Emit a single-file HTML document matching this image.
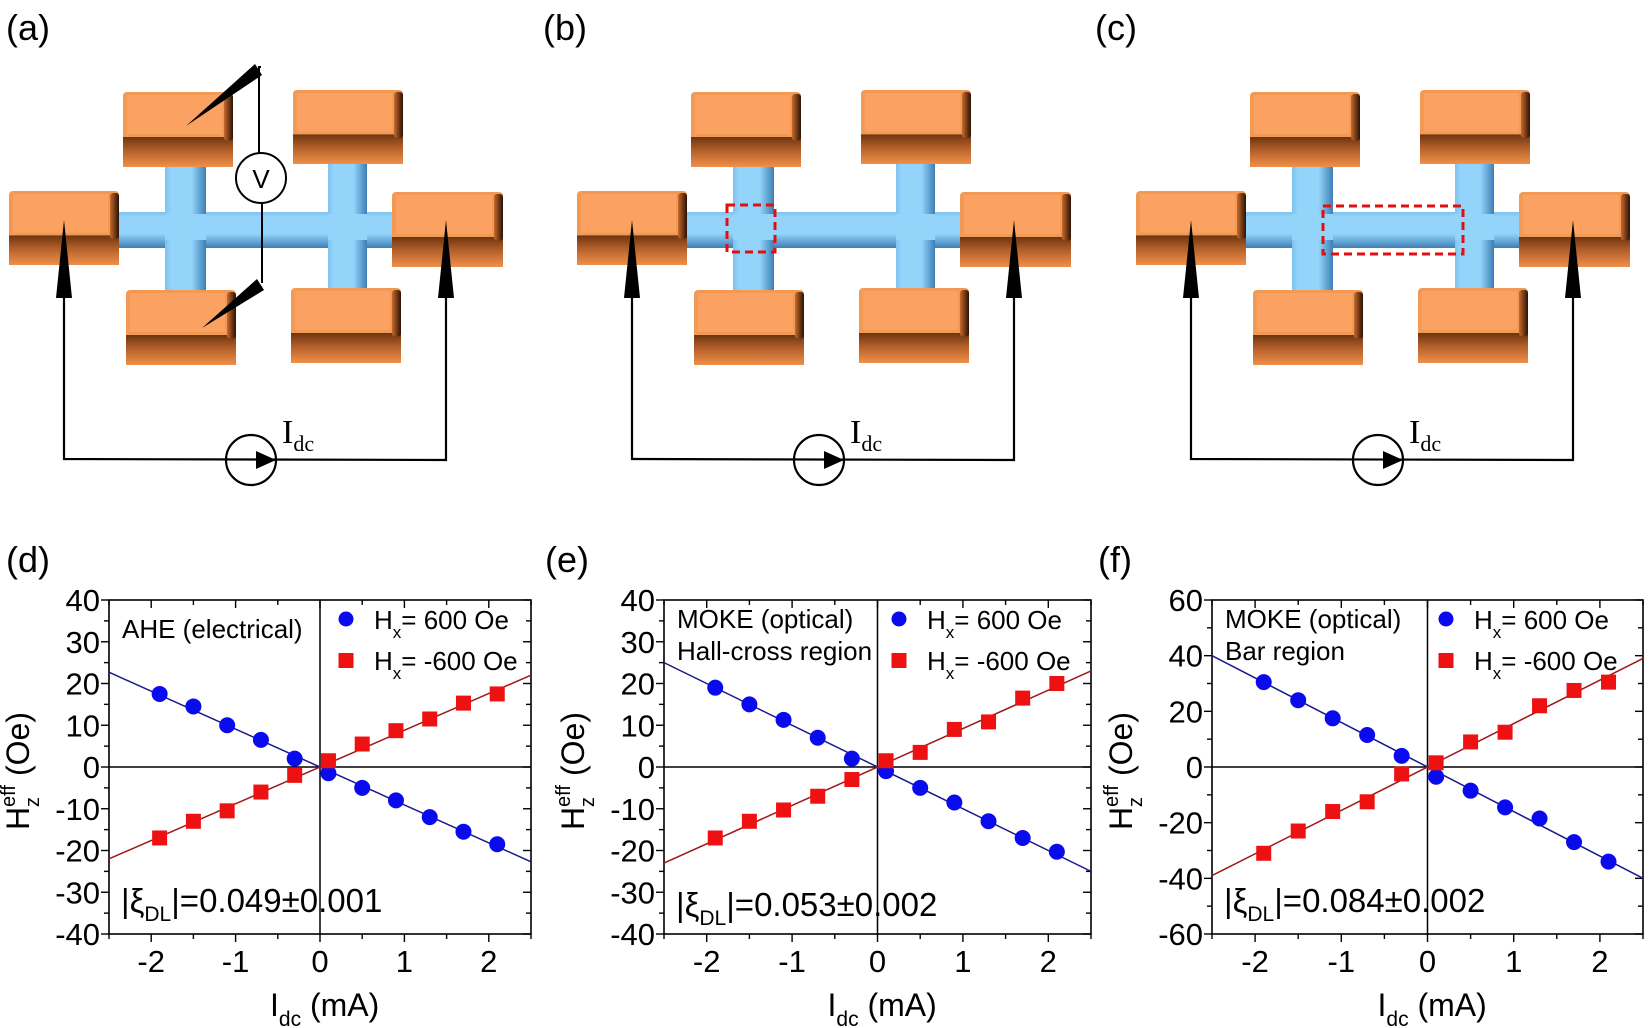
<!DOCTYPE html>
<html><head><meta charset="utf-8"><style>
html,body{margin:0;padding:0;background:#fff;}
svg{display:block;font-family:"Liberation Sans",Arial,sans-serif;}
</style></head><body>
<svg id="s" width="1650" height="1028" viewBox="0 0 1650 1028" xmlns="http://www.w3.org/2000/svg">
<defs>
<linearGradient id="front" x1="0" y1="0" x2="0" y2="1"><stop offset="0" stop-color="#6e3510"/><stop offset="0.45" stop-color="#b4602a"/><stop offset="1" stop-color="#f0904a"/></linearGradient>
<linearGradient id="side" x1="0" y1="0" x2="1" y2="0"><stop offset="0" stop-color="#c86a2c"/><stop offset="1" stop-color="#2a1205"/></linearGradient>
<linearGradient id="hb" x1="0" y1="0" x2="0" y2="1"><stop offset="0" stop-color="#7ec2ee"/><stop offset="0.15" stop-color="#94d4fb"/><stop offset="0.6" stop-color="#94d4fb"/><stop offset="1" stop-color="#3d7fb5"/></linearGradient>
<linearGradient id="vb" x1="0" y1="0" x2="1" y2="0"><stop offset="0" stop-color="#7ec2ee"/><stop offset="0.15" stop-color="#94d4fb"/><stop offset="0.65" stop-color="#94d4fb"/><stop offset="1" stop-color="#3d7fb5"/></linearGradient>
</defs>
<g id="topg"></g>
<g id="plots"></g>
</svg>
<script>
(function(){
const NS="http://www.w3.org/2000/svg";
function el(p,t,a,txt){const e=document.createElementNS(NS,t);for(const k in a)e.setAttribute(k,a[k]);if(txt!==undefined)e.textContent=txt;p.appendChild(e);return e;}
const topG=document.getElementById('topg'),plots=document.getElementById('plots');
function pad(g,x,y,w,h){
 el(g,'rect',{x:x,y:y,width:w,height:h,rx:4,fill:'#f29a55'});
 el(g,'rect',{x:x,y:y+h*0.6,width:w,height:h*0.4,fill:'url(#front)'});
 el(g,'rect',{x:x+w-9,y:y+2,width:9,height:h*0.62,rx:3,fill:'url(#side)'});
 el(g,'rect',{x:x+4,y:y+3,width:w-15,height:h*0.52,fill:'#fba262'});
}
function schem(ox,type){
 const g=el(topG,'g',{transform:'translate('+ox+',0)'});
 el(g,'rect',{x:115,y:212,width:280,height:36,fill:'url(#hb)'});
 el(g,'rect',{x:165,y:160,width:41,height:135,fill:'url(#vb)'});
 el(g,'rect',{x:328,y:160,width:39,height:135,fill:'url(#vb)'});
 el(g,'rect',{x:165,y:214,width:41,height:26,fill:'#94d4fb'});
 el(g,'rect',{x:328,y:214,width:39,height:26,fill:'#94d4fb'});
 [[123,92,110,75],[293,90,110,74],[9,191,110,74],[392,192,111,75],[126,290,110,75],[291,288,110,75]].forEach(function(p){pad(g,p[0],p[1],p[2],p[3]);});
 el(g,'polyline',{points:'64,290 64,459 446,460 446,290',fill:'none',stroke:'#000','stroke-width':2.2});
 el(g,'polygon',{points:'64,220 56,298 72,298',fill:'#000'});
 el(g,'polygon',{points:'446,220 438,298 454,298',fill:'#000'});
 el(g,'circle',{cx:251,cy:460,r:25,fill:'none',stroke:'#000','stroke-width':2.2});
 el(g,'polygon',{points:'276,460 256,451 256,469',fill:'#000'});
 const t=el(g,'text',{x:282,y:443,'font-family':'"Liberation Serif",serif','font-size':34});
 t.textContent='I';
 el(t,'tspan',{'font-size':22,dy:8},'dc');
 if(type==='a'){
  el(g,'polyline',{points:'259,153 259,67 261,67',fill:'none',stroke:'#000','stroke-width':2});
  el(g,'polygon',{points:'255,64 262,75 186,126',fill:'#000'});
  el(g,'circle',{cx:261,cy:178,r:25,fill:'#fff',stroke:'#000','stroke-width':2});
  el(g,'text',{x:261,y:188,'font-size':26,'text-anchor':'middle'},'V');
  el(g,'line',{x1:262,y1:203,x2:262,y2:283,stroke:'#000','stroke-width':2});
  el(g,'polygon',{points:'257,279 264,290 202,328',fill:'#000'});
 } else if(type==='b'){
  el(g,'rect',{x:159,y:205,width:48,height:47,fill:'none',stroke:'#e01010','stroke-width':3,'stroke-dasharray':'8,5'});
 } else {
  el(g,'rect',{x:196,y:206,width:140,height:48,fill:'none',stroke:'#e01010','stroke-width':3,'stroke-dasharray':'8,5'});
 }
}
schem(0,'a');schem(568,'b');schem(1127,'c');
[['(a)',6,40],['(b)',543,40],['(c)',1095,40],['(d)',6,572],['(e)',545,572],['(f)',1098,572]].forEach(function(l){el(plots,'text',{x:l[1],y:l[2],'font-size':36},l[0]);});

function plot(o){
 const g=el(plots,'g',{});
 const X0=o.x0,X1=o.x1,Y0=600,Y1=934;
 const sx=function(v){return X0+(v+2.5)/5*(X1-X0);}, sy=function(v){return Y1-(v-o.ymin)/(o.ymax-o.ymin)*(Y1-Y0);};
 el(g,'rect',{x:X0,y:Y0,width:X1-X0,height:Y1-Y0,fill:'none',stroke:'#000','stroke-width':1.6});
 el(g,'line',{x1:sx(0),y1:Y0,x2:sx(0),y2:Y1,stroke:'#000','stroke-width':1.5});
 el(g,'line',{x1:X0,y1:sy(0),x2:X1,y2:sy(0),stroke:'#000','stroke-width':1.5});
 for(let i=0;i<=10;i++){const v=-2.5+0.5*i;const x=sx(v),maj=(i%2===1),L=maj?8:5;
  el(g,'line',{x1:x,y1:Y1,x2:x,y2:Y1+L,stroke:'#000','stroke-width':1.4});
  el(g,'line',{x1:x,y1:Y0,x2:x,y2:Y0+L,stroke:'#000','stroke-width':1.4});
  if(maj)el(g,'text',{x:x,y:972,'font-size':31,'text-anchor':'middle'},String(Math.round(v)));}
 const st=o.step/2,n=Math.round((o.ymax-o.ymin)/st);
 for(let i=0;i<=n;i++){const v=o.ymin+st*i;const y=sy(v),maj=(i%2===0),L=maj?8:5;
  el(g,'line',{x1:X0,y1:y,x2:X0-L,y2:y,stroke:'#000','stroke-width':1.4});
  el(g,'line',{x1:X1,y1:y,x2:X1-L,y2:y,stroke:'#000','stroke-width':1.4});
  if(maj)el(g,'text',{x:X0-9,y:y+11,'font-size':31,'text-anchor':'end'},String(v));}
 el(g,'line',{x1:sx(-2.5),y1:sy(o.bl[0]),x2:sx(2.5),y2:sy(o.bl[1]),stroke:'#1a1a8c','stroke-width':1.5});
 el(g,'line',{x1:sx(-2.5),y1:sy(o.rl[0]),x2:sx(2.5),y2:sy(o.rl[1]),stroke:'#a01818','stroke-width':1.5});
 for(let i=0;i<11;i++){const xv=-1.9+0.4*i;
  el(g,'circle',{cx:sx(xv),cy:sy(o.b[i]),r:8,fill:'#0a0aee'});
  el(g,'rect',{x:sx(xv)-7.5,y:sy(o.r[i])-7.5,width:15,height:15,fill:'#ee1111'});}
 el(g,'circle',{cx:o.lx,cy:619,r:7.5,fill:'#0a0aee'});
 el(g,'rect',{x:o.lx-7.5,y:653,width:15,height:15,fill:'#ee1111'});
 let t=el(g,'text',{x:o.lx+28,y:629,'font-size':26});t.textContent='H';el(t,'tspan',{'font-size':17,dy:9},'x');el(t,'tspan',{dy:-9},'= 600 Oe');
 t=el(g,'text',{x:o.lx+28,y:670,'font-size':26});t.textContent='H';el(t,'tspan',{'font-size':17,dy:9},'x');el(t,'tspan',{dy:-9},'= -600 Oe');
 o.lab.forEach(function(s,i){el(g,'text',{x:X0+13,y:o.ly+32*i,'font-size':26},s);});
 t=el(g,'text',{x:X0+12,y:o.xy,'font-size':33});t.textContent='|ξ';el(t,'tspan',{'font-size':21,dy:9},'DL');el(t,'tspan',{dy:-9},'|=0.0'+o.xi+'±0.00'+o.er);
 t=el(g,'text',{x:(X0+X1)/2-50,y:1016,'font-size':32});t.textContent='I';el(t,'tspan',{'font-size':21,dy:10},'dc');el(t,'tspan',{dy:-10},' (mA)');
 const xc=X0-80, yb=830;
 const rg=el(g,'g',{transform:'translate('+xc+','+yb+') rotate(-90)'});
 el(rg,'text',{x:0,y:0,'font-size':32},'H');
 el(rg,'text',{x:23,y:-14,'font-size':20},'eff');
 el(rg,'text',{x:23,y:10,'font-size':20},'z');
 el(rg,'text',{x:54,y:0,'font-size':32},'(Oe)');
}
plot({x0:109,x1:531,ymin:-40,ymax:40,step:10,bl:[22.7,-22.7],rl:[-22,22],
 b:[17.5,14.5,10,6.5,2,-1.5,-5,-8,-12,-15.5,-18.5],r:[-17,-13,-10.5,-6,-2,1.5,5.5,8.7,11.5,15.3,17.5],
 lx:346,lab:['AHE (electrical)'],ly:638,xi:'49',er:'1',xy:912});
plot({x0:664,x1:1091,ymin:-40,ymax:40,step:10,bl:[25,-25],rl:[-23,23],
 b:[19,15,11.3,7,2,-1,-5,-8.5,-13,-17,-20.3],r:[-17,-13,-10.3,-7,-3,1.5,3.5,9,10.8,16.5,20],
 lx:899,lab:['MOKE (optical)','Hall-cross region'],ly:628,xi:'53',er:'2',xy:916});
plot({x0:1212,x1:1643,ymin:-60,ymax:60,step:20,bl:[40,-40],rl:[-39,39],
 b:[30.5,24,17.5,11.5,4,-3.5,-8.5,-14.5,-18.5,-27,-34],r:[-31,-23,-16,-12.5,-2.5,1.5,9,12.5,22,27.5,30.5],
 lx:1446,lab:['MOKE (optical)','Bar region'],ly:628,xi:'84',er:'2',xy:912});
})();
</script>
</body></html>
